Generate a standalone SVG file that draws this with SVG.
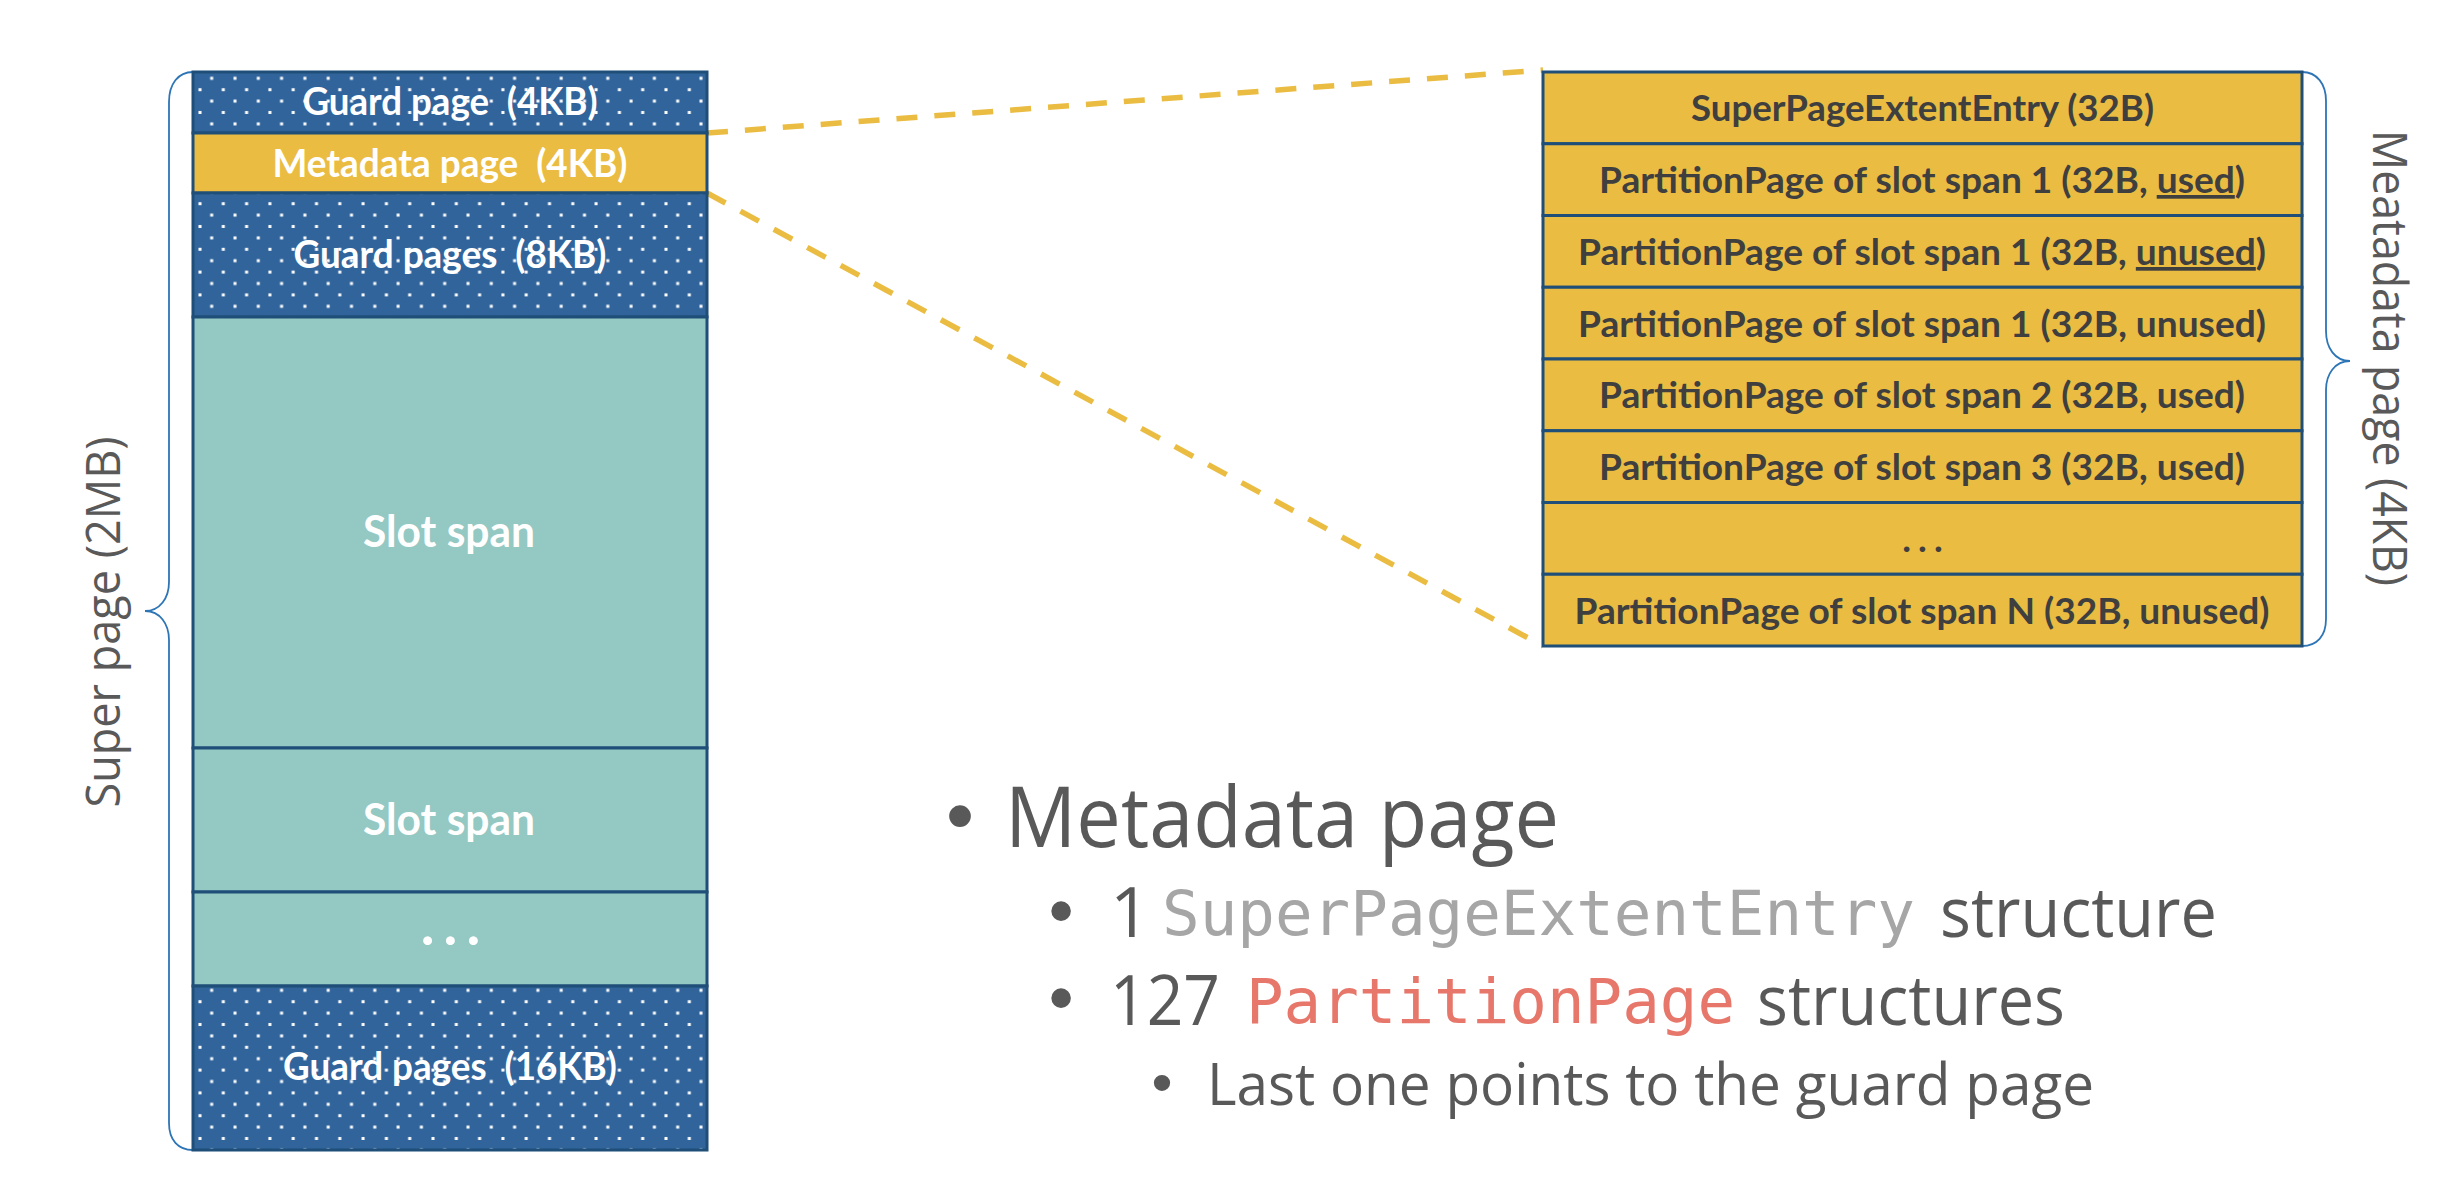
<svg xmlns="http://www.w3.org/2000/svg" width="2458" height="1190" viewBox="0 0 2458 1190">
<defs>
<style>
.row{stroke:#1F4E79;stroke-width:3}
.guard{fill:url(#dots)}
.slot{fill:#94C8C3}
.meta{fill:#EABC42}
.lbl{font-family:Lato,'Liberation Sans',sans-serif;font-weight:700;fill:#FFFFFF;text-anchor:middle;white-space:pre}
.tlbl{font-family:Lato,'Liberation Sans',sans-serif;font-weight:700;fill:#3F3F3F;text-anchor:middle;font-size:37px}
.u{text-decoration:underline}
.brace{fill:none;stroke:#2E75B6;stroke-width:1.8}
.side{font-family:'Open Sans','Liberation Sans',sans-serif;fill:#595959;font-size:47px;text-anchor:middle}
.dash{stroke:#EABC42;stroke-width:5.5;stroke-dasharray:21 17;fill:none}
.body{font-family:'Open Sans','Liberation Sans',sans-serif;fill:#595959}
.bul{font-family:'Liberation Sans',sans-serif;fill:#595959;text-anchor:middle}
.mono{font-family:'DejaVu Sans Mono','Liberation Mono',monospace;font-size:62.5px}
</style>
<pattern id="dots" x="0" y="0" width="23.3" height="22.8" patternUnits="userSpaceOnUse">
<rect width="23.3" height="22.8" fill="#31649B"/>
<rect x="0.5" y="8.4" width="3" height="3" fill="#FFFFFF"/>
<rect x="12.1" y="19.8" width="3" height="3" fill="#FFFFFF"/>
</pattern>
</defs>
<rect width="2458" height="1190" fill="#FFFFFF"/>

<g id="connectors">
<line class="dash" x1="707" y1="133" x2="1543" y2="70"/>
<line class="dash" x1="707" y1="193" x2="1543" y2="646"/>
<path class="brace" d="M193,72 C178,72 169,84 169,102 L169,582 C169,598 160,611 145,611 C160,611 169,624 169,640 L169,1123 C169,1140 178,1150 193,1150"/>
<path class="brace" d="M2302,72 C2317,72 2326,84 2326,101 L2326,331 C2326,348 2335,361 2350,361 C2335,361 2326,374 2326,390 L2326,619 C2326,636 2317,646 2302,646"/>
</g>

<g id="super-page-label">
<text class="side" transform="translate(120,622) rotate(-90)" textLength="371" lengthAdjust="spacingAndGlyphs">Super page (2MB)</text>
</g>
<g id="metadata-page-label">
<text class="side" transform="translate(2373,358) rotate(90)" textLength="456" lengthAdjust="spacingAndGlyphs">Meatadata page (4KB)</text>
</g>

<g id="guard-4kb">
<rect class="row guard" x="193" y="72" width="514" height="61"/>
<text class="lbl" x="450" y="115" font-size="39" textLength="295" lengthAdjust="spacingAndGlyphs">Guard page  (4KB)</text>
</g>
<g id="metadata-page">
<rect class="row meta" x="193" y="133" width="514" height="60"/>
<text class="lbl" x="450" y="177" font-size="39" textLength="355" lengthAdjust="spacingAndGlyphs">Metadata page  (4KB)</text>
</g>
<g id="guard-8kb">
<rect class="row guard" x="193" y="193" width="514" height="124"/>
<text class="lbl" x="450" y="268" font-size="39" textLength="313" lengthAdjust="spacingAndGlyphs">Guard pages  (8KB)</text>
</g>
<g id="slot-span-1">
<rect class="row slot" x="193" y="317" width="514" height="431"/>
<text class="lbl" x="449" y="547" font-size="43" textLength="172" lengthAdjust="spacingAndGlyphs">Slot span</text>
</g>
<g id="slot-span-2">
<rect class="row slot" x="193" y="748" width="514" height="144"/>
<text class="lbl" x="449" y="835" font-size="43" textLength="172" lengthAdjust="spacingAndGlyphs">Slot span</text>
</g>
<g id="slot-more">
<rect class="row slot" x="193" y="892" width="514" height="94"/>
<text class="lbl" x="455" y="945" font-size="58" letter-spacing="9">...</text>
</g>
<g id="guard-16kb">
<rect class="row guard" x="193" y="986" width="514" height="164"/>
<text class="lbl" x="450" y="1080" font-size="39" textLength="334" lengthAdjust="spacingAndGlyphs">Guard pages  (16KB)</text>
</g>

<g id="entry-superpage">
<rect class="row meta" x="1543" y="72" width="759" height="71.75"/>
<text class="tlbl" x="1922.5" y="121" textLength="463" lengthAdjust="spacingAndGlyphs">SuperPageExtentEntry (32B)</text>
</g>
<g id="entry-span1-a">
<rect class="row meta" x="1543" y="143.75" width="759" height="71.75"/>
<text class="tlbl" x="1922" y="193" textLength="646" lengthAdjust="spacingAndGlyphs">PartitionPage of slot span 1 (32B, <tspan class="u">used</tspan>)</text>
</g>
<g id="entry-span1-b">
<rect class="row meta" x="1543" y="215.5" width="759" height="71.75"/>
<text class="tlbl" x="1922" y="265" textLength="688" lengthAdjust="spacingAndGlyphs">PartitionPage of slot span 1 (32B, <tspan class="u">unused</tspan>)</text>
</g>
<g id="entry-span1-c">
<rect class="row meta" x="1543" y="287.25" width="759" height="71.75"/>
<text class="tlbl" x="1922" y="337" textLength="688" lengthAdjust="spacingAndGlyphs">PartitionPage of slot span 1 (32B, unused)</text>
</g>
<g id="entry-span2">
<rect class="row meta" x="1543" y="359" width="759" height="71.75"/>
<text class="tlbl" x="1922" y="408" textLength="646" lengthAdjust="spacingAndGlyphs">PartitionPage of slot span 2 (32B, used)</text>
</g>
<g id="entry-span3">
<rect class="row meta" x="1543" y="430.75" width="759" height="71.75"/>
<text class="tlbl" x="1922" y="480" textLength="646" lengthAdjust="spacingAndGlyphs">PartitionPage of slot span 3 (32B, used)</text>
</g>
<g id="entry-more">
<rect class="row meta" x="1543" y="502.5" width="759" height="71.75"/>
<text class="tlbl" x="1926" y="552" font-size="48" letter-spacing="7">...</text>
</g>
<g id="entry-spanN">
<rect class="row meta" x="1543" y="574.25" width="759" height="71.75"/>
<text class="tlbl" x="1922" y="624" textLength="695" lengthAdjust="spacingAndGlyphs">PartitionPage of slot span N (32B, unused)</text>
</g>

<g id="notes">
<text class="bul" x="960" y="843" font-size="80">•</text>
<text class="body" x="1005" y="847" font-size="84" textLength="554" lengthAdjust="spacingAndGlyphs">Metadata page</text>
<text class="bul" x="1061" y="935" font-size="72">•</text>
<text class="body" x="1110" y="937" font-size="70">1</text>
<text class="mono" x="1162" y="935" fill="#A6A6A6" textLength="753" lengthAdjust="spacingAndGlyphs">SuperPageExtentEntry</text>
<text class="body" x="1940" y="937" font-size="70" textLength="277" lengthAdjust="spacingAndGlyphs">structure</text>
<text class="bul" x="1061" y="1022" font-size="72">•</text>
<text class="body" x="1110" y="1025" font-size="70" textLength="110" lengthAdjust="spacingAndGlyphs">127</text>
<text class="mono" x="1246" y="1023" fill="#E6776A" textLength="489" lengthAdjust="spacingAndGlyphs">PartitionPage</text>
<text class="body" x="1757" y="1025" font-size="70" textLength="308" lengthAdjust="spacingAndGlyphs">structures</text>
<text class="bul" x="1162" y="1103" font-size="60">•</text>
<text class="body" x="1207" y="1105" font-size="58" textLength="887" lengthAdjust="spacingAndGlyphs">Last one points to the guard page</text>
</g>
</svg>
